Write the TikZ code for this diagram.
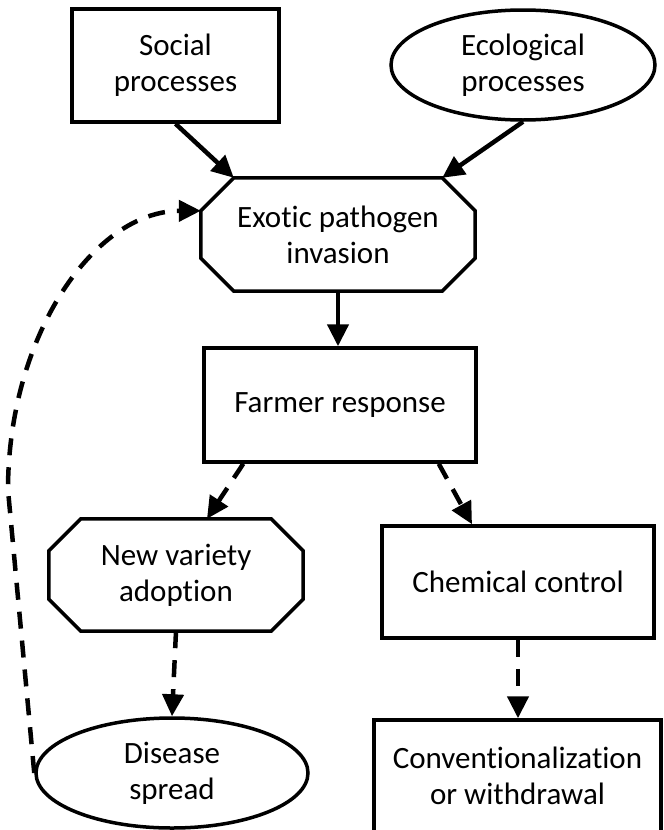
\documentclass[tikz,border=0pt]{standalone}
\usepackage{fontspec}
\setmainfont{Carlito}[Ligatures=NoCommon]
\usetikzlibrary{arrows.meta,shapes.geometric,calc}
\newcommand\octagonpath[2]{%
  \draw[boxline] ($(#1.north west)+(#2,0)$) -- ($(#1.north east)+(-#2,0)$)
    -- ($(#1.north east)+(0,#2)$) -- ($(#1.south east)+(0,-#2)$)
    -- ($(#1.south east)+(-#2,0)$) -- ($(#1.south west)+(#2,0)$)
    -- ($(#1.south west)+(0,-#2)$) -- ($(#1.north west)+(0,#2)$) -- cycle;}
\begin{document}
\begin{tikzpicture}[x=1pt,y=-1pt,
  boxline/.style={line width=3.5pt, line join=miter},
  lbl/.style={font=\fontsize{31}{36}\selectfont, align=center, inner sep=0pt},
  rbox/.style={lbl, draw, boxline, rectangle},
  ebox/.style={lbl, draw, boxline, ellipse},
  obox/.style={lbl, rectangle},
  solidarrow/.style={line width=4.5pt, -{Triangle[length=22pt,width=21pt]}},
  dasharrow/.style={line width=4.5pt, dash pattern=on 17pt off 12pt, -{Triangle[length=22pt,width=21pt]}}]
\useasboundingbox (0,0) rectangle (664,830);
\fill[white] (0,0) rectangle (664,830);

\node[rbox, minimum width=207pt, minimum height=113pt] (soc) at (175.5,65.5) {Social\\processes};
\node[ebox, minimum width=264pt, minimum height=110pt] (eco) at (523,65) {Ecological\\processes};
\node[obox, minimum width=274pt, minimum height=113pt] (ex) at (338,234.5) {Exotic pathogen\\invasion};
\octagonpath{ex}{33}
\node[rbox, minimum width=272pt, minimum height=114pt] (fr) at (340,405) {Farmer response};
\node[obox, minimum width=254pt, minimum height=112pt] (nv) at (176,575) {New variety\\adoption};
\octagonpath{nv}{32}
\node[rbox, minimum width=272pt, minimum height=112pt] (cc) at (518,582) {Chemical control};
\node[ebox, minimum width=272pt, minimum height=110pt] (dis) at (172,773) {Disease\\spread};
\node[rbox, minimum width=287pt, minimum height=112pt] (cw) at (517.5,776) {Conventionalization\\or withdrawal};

\coordinate (ex-tl) at ($(ex.north west)+(33,0)$);
\coordinate (ex-tr) at ($(ex.north east)+(-33,0)$);
\coordinate (ex-lw) at ($(ex.north west)+(0,33)$);
\coordinate (fr-a) at ($(fr.south west)+(41,0)$);
\coordinate (fr-b) at ($(fr.south east)+(-39,0)$);
\coordinate (nv-t) at ($(nv.north)+(31,0)$);
\coordinate (cc-t) at ($(cc.north)+(-46,0)$);
\coordinate (bend) at (8,490);

\draw[solidarrow] (soc.south) -- (ex-tl);
\draw[solidarrow] (eco.south) -- (ex-tr);
\draw[solidarrow] (ex.south) -- (ex.south |- fr.north);
\draw[dasharrow] (fr-a) -- (nv-t);
\draw[dasharrow] (fr-b) -- (cc-t);
\draw[dasharrow] (nv.south) -- (dis.north);
\draw[dasharrow] (cc.south) -- (cc.south |- cw.north);
\draw[dasharrow] (dis.west) -- (bend) .. controls (8,336) and (94,211) .. (ex-lw);
\end{tikzpicture}
\end{document}
